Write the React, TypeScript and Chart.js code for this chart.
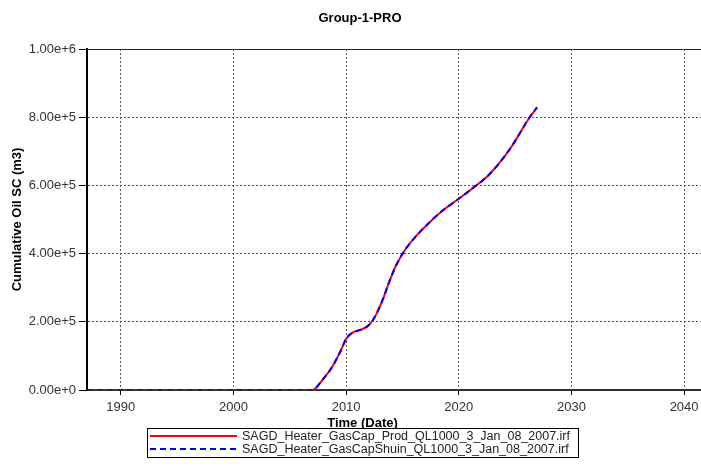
import React, { useEffect, useRef } from 'react';
import { Chart, registerables } from 'chart.js';

Chart.register(...registerables);

const TITLE = 'Group-1-PRO';
const X_TITLE = 'Time (Date)';
const Y_TITLE = 'Cumulative Oil SC (m3)';

const seriesLabels = [
  'SAGD_Heater_GasCap_Prod_QL1000_3_Jan_08_2007.irf',
  'SAGD_Heater_GasCapShuin_QL1000_3_Jan_08_2007.irf',
];

const years = [1987, 2007.0, 2007.92, 2008.8, 2009.57, 2010.0, 2010.6, 2011.33, 2012.07, 2012.66, 2013.25, 2013.85, 2014.4, 2015.15, 2016.2, 2017.35, 2018.6, 2020.0, 2021.25, 2022.7, 2024.5, 2026.3, 2026.95];
const oilProd = [0, 0, 30700, 69700, 118600, 150000, 169000, 177000, 192000, 221000, 265000, 319000, 363000, 407000, 451000, 490000, 527000, 561000, 592000, 632000, 705000, 800000, 829000];
const oilShuin = [0, 0, 30700, 69700, 118600, 150000, 169000, 177000, 192000, 221000, 265000, 319000, 363000, 407000, 451000, 490000, 527000, 561000, 592000, 632000, 705000, 800000, 829000];

const xTicks = [1990, 2000, 2010, 2020, 2030, 2040];
const yTicks = [0, 200000, 400000, 600000, 800000, 1000000];

const FONT = '"Liberation Sans", Arial, sans-serif';

const decor = {
  id: 'decor',
  afterDraw(chart: any) {
    const { ctx, chartArea } = chart;
    ctx.save();
    // top border
    ctx.strokeStyle = '#222';
    ctx.lineWidth = 1;
    ctx.setLineDash([]);
    ctx.beginPath();
    ctx.moveTo(chartArea.left, Math.round(chartArea.top) + 0.5);
    ctx.lineTo(chartArea.right, Math.round(chartArea.top) + 0.5);
    ctx.stroke();

    // titles
    ctx.fillStyle = '#000';
    ctx.font = `bold 13px ${FONT}`;
    ctx.textAlign = 'center';
    ctx.textBaseline = 'middle';
    ctx.fillText(TITLE, 360, 18);
    ctx.fillText(X_TITLE, 362.5, 423);

    // legend
    ctx.font = `12.5px ${FONT}`;
    const ds = chart.data.datasets;
    let maxW = 0;
    ds.forEach((d: any) => {
      maxW = Math.max(maxW, ctx.measureText(d.label).width);
    });
    const textX = 242;
    const boxL = 147;
    const boxR = textX + maxW + 8;
    const boxT = 428;
    const boxB = 457;
    ctx.fillStyle = '#fff';
    ctx.fillRect(boxL, boxT, boxR - boxL, boxB - boxT);
    ctx.strokeStyle = '#000';
    ctx.lineWidth = 1;
    ctx.strokeRect(boxL + 0.5, boxT + 0.5, boxR - boxL, boxB - boxT);
    ctx.textAlign = 'left';
    ds.forEach((d: any, i: number) => {
      const y = 436 + i * 13;
      ctx.strokeStyle = d.borderColor;
      ctx.lineWidth = 2;
      ctx.setLineDash(d.borderDash || []);
      ctx.beginPath();
      ctx.moveTo(150, y);
      ctx.lineTo(237, y);
      ctx.stroke();
      ctx.setLineDash([]);
      ctx.fillStyle = '#222';
      ctx.fillText(d.label, textX, y + 0.5);
    });
    ctx.restore();
  },
};

export default function App() {
  const ref = useRef<HTMLCanvasElement | null>(null);

  useEffect(() => {
    if (!ref.current) return;
    const chart = new Chart(ref.current, {
      type: 'line',
      data: {
        datasets: [
          {
            label: seriesLabels[0],
            data: years.map((x, i) => ({ x, y: oilProd[i] })),
            borderColor: '#ff0000',
            borderWidth: 2,
            pointRadius: 0,
            cubicInterpolationMode: 'monotone',
            order: 1,
          },
          {
            label: seriesLabels[1],
            data: years.map((x, i) => ({ x, y: oilShuin[i] })),
            borderColor: '#0000ff',
            borderWidth: 2,
            borderDash: [6, 4],
            pointRadius: 0,
            cubicInterpolationMode: 'monotone',
            order: 0,
          },
        ],
      },
      options: {
        animation: false,
        responsive: false,
        maintainAspectRatio: false,
        layout: { padding: { top: 49, left: 0, right: 0, bottom: 0 } },
        plugins: {
          legend: { display: false },
          title: { display: false },
          tooltip: { enabled: false },
        },
        scales: {
          x: {
            type: 'linear',
            min: 1987,
            max: 2041.5,
            afterBuildTicks: (s: any) => {
              s.ticks = xTicks.map((v) => ({ value: v }));
            },
            afterFit: (s: any) => {
              s.height = 83;
              s.paddingLeft = 0;
              s.paddingRight = 0;
            },
            ticks: {
              font: { family: FONT, size: 13 },
              color: '#333',
              padding: 5,
              maxRotation: 0,
              callback: (v: any) => String(v),
            },
            grid: {
              color: '#555',
              lineWidth: 1,
              tickLength: 5,
              tickColor: '#000',
              tickWidth: 1,
            },
            border: { display: true, color: '#333', width: 2, dash: [2, 2] },
          },
          y: {
            type: 'linear',
            min: 0,
            max: 1000000,
            afterBuildTicks: (s: any) => {
              s.ticks = yTicks.map((v) => ({ value: v }));
            },
            afterFit: (s: any) => {
              s.width = 87;
              s.paddingTop = 0;
              s.paddingBottom = 0;
            },
            ticks: {
              font: { family: FONT, size: 13 },
              color: '#333',
              padding: 3,
              callback: (v: any) => Number(v).toExponential(2),
            },
            grid: {
              color: '#555',
              lineWidth: 1,
              tickLength: 8,
              tickColor: '#000',
              tickWidth: 1,
            },
            border: { display: true, color: '#000', width: 2, dash: [2, 2] },
            title: {
              display: true,
              text: Y_TITLE,
              font: { family: FONT, size: 13, weight: 'bold' },
              color: '#000',
              padding: { top: 10, bottom: 0 },
            },
          },
        },
      },
      plugins: [decor],
    });
    return () => chart.destroy();
  }, []);

  return (
    <div
      style={{
        position: 'fixed',
        left: 0,
        top: 0,
        width: 701,
        height: 473,
        overflow: 'hidden',
        background: '#fff',
      }}
    >
      <canvas ref={ref} width={701} height={473} style={{ width: 701, height: 473, display: 'block' }} />
    </div>
  );
}
